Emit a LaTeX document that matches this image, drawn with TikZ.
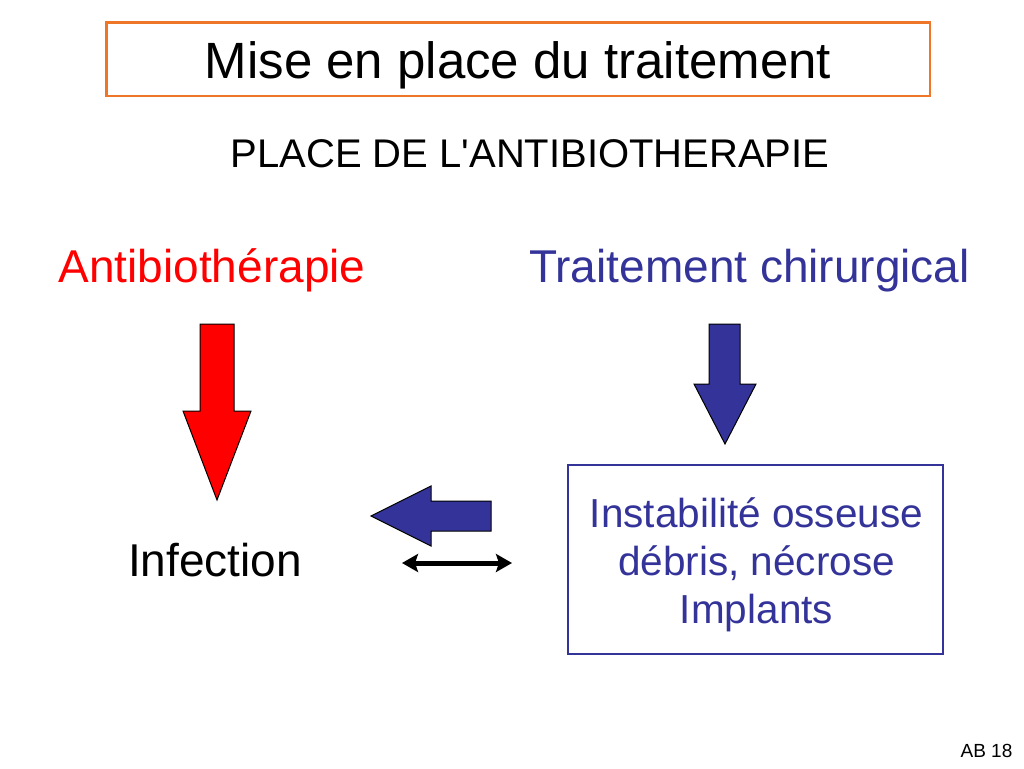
\documentclass[tikz,border=0pt]{standalone}
\usepackage{fontspec}
\setmainfont{Liberation Sans}
\usetikzlibrary{arrows.meta}
\definecolor{boxorange}{RGB}{238,118,40}
\definecolor{navy}{RGB}{51,51,153}
\definecolor{pred}{RGB}{255,0,0}
\begin{document}
\begin{tikzpicture}[x=1pt,y=-1pt,
  txt/.style={anchor=base,inner sep=0pt},
  blockarrow/.style={draw=black,line width=1pt,line join=miter}]
\useasboundingbox[fill=white] (0,0) rectangle (1024,768);
% title box
\draw[boxorange,line width=2.5pt] (106.5,22.5) rectangle (930,96);
\node[txt,font=\fontsize{51}{60}\selectfont] (title) at (518,78) {Mise en place du traitement};
\node[txt,font=\fontsize{40}{48}\selectfont] (sub) at (530,167) {PLACE DE L\textquotesingle ANTIBIOTHERAPIE};
\node[txt,text=pred,font=\fontsize{46}{55}\selectfont] (ab) at (212,282) {Antibiothérapie};
\node[txt,text=navy,font=\fontsize{46}{55}\selectfont] (tc) at (749.5,282) {Traitement chirurgical};
\node[txt,font=\fontsize{46}{55}\selectfont] (inf) at (215,576) {Infection};
% blue box
\node[draw=navy,line width=1.5pt,minimum width=375pt,minimum height=189pt,inner sep=0pt] (box) at (755.5,559.5) {};
\node[inner sep=0pt,text=navy,align=center,font=\fontsize{40.5}{48}\selectfont] (boxtext) at (756.5,564.5)
      {Instabilité osseuse\\débris, nécrose\\Implants};
% red down arrow
\draw[blockarrow,fill=pred] (200,324) -- (234,324) -- (234,411) -- (251,411) -- (217,500) -- (183,411) -- (200,411) -- cycle;
% blue down arrow
\draw[blockarrow,fill=navy] (709,324) -- (740,324) -- (740,384) -- (756,384) -- (725,444) -- (694,384) -- (709,384) -- cycle;
% blue left arrow
\draw[blockarrow,fill=navy] (491,501) -- (491,531) -- (431,531) -- (431,546) -- (371,516) -- (431,486) -- (431,501) -- cycle;
% double arrow
\coordinate (da1) at (402,563);
\coordinate (da2) at (512,563);
\draw[line width=5pt,{Stealth[length=16pt,width=18pt,inset=3pt]}-{Stealth[length=16pt,width=18pt,inset=3pt]}] (da1) -- (da2);
\node[txt,font=\fontsize{19}{22}\selectfont] (ref) at (986.5,757) {AB 18};
\end{tikzpicture}
\end{document}
